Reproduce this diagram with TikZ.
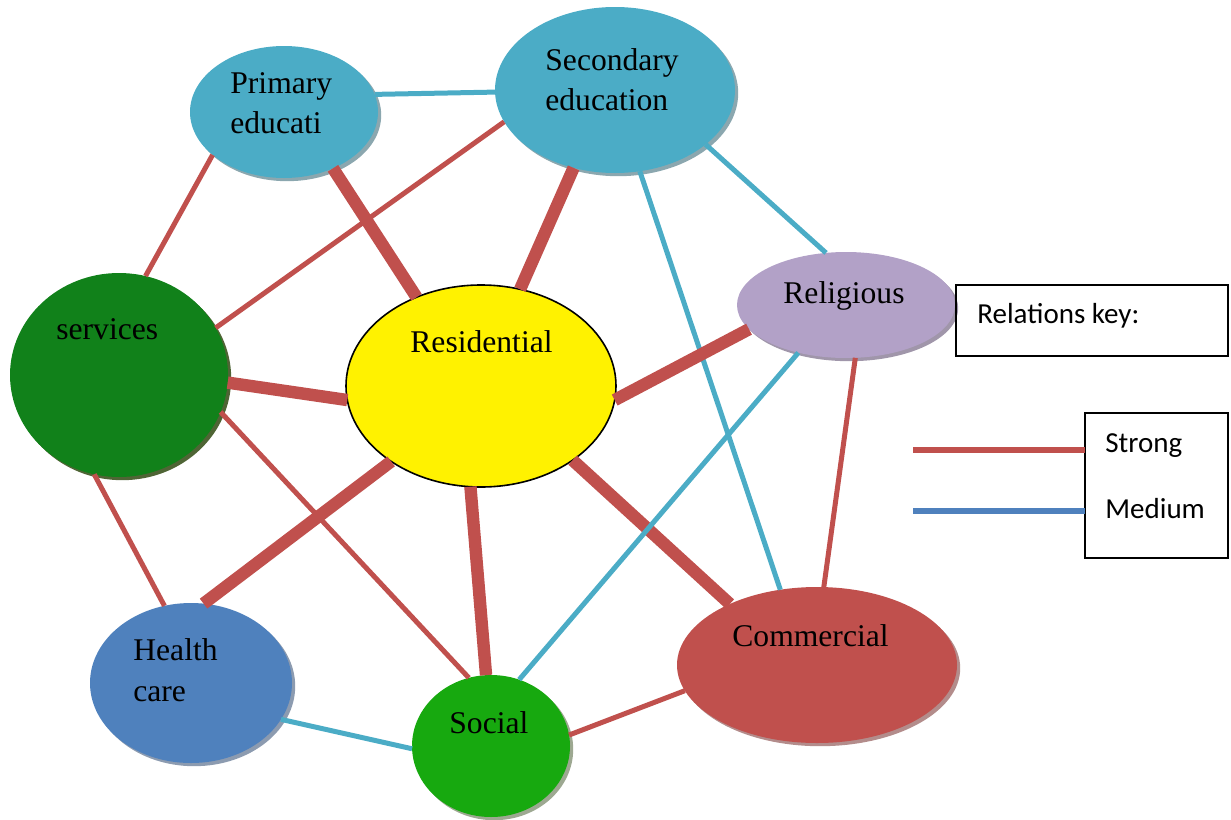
\documentclass[tikz,border=0pt]{standalone}
\usepackage{fontspec}
\setmainfont{Liberation Serif}
\newfontfamily\calibri{Carlito}
\usetikzlibrary{shapes.geometric,shadows}
\definecolor{aqua}{HTML}{4BACC6}
\definecolor{aquash}{HTML}{8BA7AF}
\definecolor{redc}{HTML}{C0504D}
\definecolor{redsh}{HTML}{B38C8B}
\definecolor{bluec}{HTML}{4F81BD}
\definecolor{bluesh}{HTML}{8C9BB0}
\definecolor{dgreen}{HTML}{11811A}
\definecolor{dgreensh}{HTML}{4F6535}
\definecolor{lgreen}{HTML}{17A90F}
\definecolor{lgreensh}{HTML}{9DA891}
\definecolor{lav}{HTML}{B2A1C7}
\definecolor{lavsh}{HTML}{A096AA}
\begin{document}
\begin{tikzpicture}[x=0.5pt,y=-0.5pt,
  blob/.style={ellipse, inner sep=0pt, outer sep=0pt},
  shad/.style={drop shadow={shadow xshift=1.6pt, shadow yshift=-1.6pt, fill=#1, opacity=1}},
  lbl/.style={anchor=base west, inner sep=0pt, font=\fontsize{15.8}{19}\selectfont},
  keylbl/.style={anchor=base west, inner sep=0pt, font=\calibri\fontsize{14.5}{17}\selectfont},
  keybox/.style={draw=black, line width=0.9pt, rectangle, anchor=north west, inner sep=0pt, outer sep=0pt},
  relstrong/.style={draw=redc, line width=2.5pt},
  relvs/.style={draw=redc, line width=6.2pt},
  relmed/.style={draw=aqua, line width=2.5pt}]
\useasboundingbox (0,0) rectangle (1231,819);

% ellipses
\node[blob, shad=aquash, fill=aqua, minimum width=94pt, minimum height=66pt] (prim) at (284,112) {};
\node[blob, shad=aquash, fill=aqua, minimum width=120pt, minimum height=83pt] (sec) at (615,90) {};
\node[blob, shad=dgreensh, fill=dgreen, minimum width=109pt, minimum height=102pt] (serv) at (119,375) {};
\node[blob, fill=yellow, draw=black, line width=0.8pt, minimum width=135pt, minimum height=101pt] (res) at (481,386) {};
\node[blob, shad=lavsh, fill=lav, minimum width=109pt, minimum height=53pt] (rel) at (846,305) {};
\node[blob, shad=bluesh, fill=bluec, minimum width=101pt, minimum height=80pt] (hc) at (191,683) {};
\node[blob, shad=lgreensh, fill=lgreen, minimum width=79pt, minimum height=71pt] (soc) at (491,746) {};
\node[blob, shad=redsh, fill=redc, minimum width=140pt, minimum height=78pt] (com) at (817,665) {};

% connectors
\draw[relmed] (prim.11.4) -- (sec.181.5);
\draw[relstrong] (prim.-149) -- (serv.75.8);
\draw[relvs] (prim.-49.6) -- (res.126.2);
\draw[relstrong] (sec.-164.9) -- (serv.26.3);
\draw[relvs] (sec.-118.5) -- (res.68.9);
\draw[relmed] (sec.-73.6) -- (com.116.9);
\draw[relmed] (sec.-31) -- (rel.111.6);
\draw[relvs] (serv.-4.5) -- (res.186);
\draw[relstrong] (serv.-20.6) -- (soc.108.7);
\draw[relstrong] (serv.-104.7) -- (hc.109.3);
\draw[relvs] (res.-6.6) -- (rel.-166.1);
\draw[relvs] (res.-140.1) -- (hc.81.7);
\draw[relvs] (res.-96.2) -- (soc.94.9);
\draw[relvs] (res.-39) -- (com.145.6);
\draw[relmed] (rel.-135) -- (soc.67.8);
\draw[relstrong] (rel.-80.2) -- (com.85.5);
\draw[relmed] (hc.-22.8) -- (soc.-178.5);
\draw[relstrong] (soc.8.8) -- (com.-169.2);

% labels
\node[lbl] (primT1) at (230,93) {Primary};
\node[lbl] (primT2) at (230,133) {educati};
\node[lbl] (secT1) at (545,70) {Secondary};
\node[lbl] (secT2) at (545,110) {education};
\node[lbl] (servT) at (56,339) {services};
\node[lbl] (resT) at (410,352) {Residential};
\node[lbl] (relT) at (783,303) {Religious};
\node[lbl] (hcT1) at (133,660) {Health};
\node[lbl] (hcT2) at (133,701) {care};
\node[lbl] (socT) at (449,733) {Social};
\node[lbl] (comT) at (732,646) {Commercial};

% key
\node[keybox, minimum width=136pt, minimum height=35.5pt] (keyA) at (956,285) {};
\node[keylbl] (keyAT) at (977,323) {Relations key:};
\node[keybox, minimum width=71.5pt, minimum height=72.5pt] (keyB) at (1085,413) {};
\node[keylbl] (strongT) at (1105,452) {Strong};
\node[keylbl] (mediumT) at (1105,518) {Medium};
\coordinate (strongS) at (913,450);
\coordinate (mediumS) at (913,511);
\draw[draw=redc, line width=3pt] (strongS) -- (strongS -| keyB.west);
\draw[draw=bluec, line width=3pt] (mediumS) -- (mediumS -| keyB.west);
\end{tikzpicture}
\end{document}
